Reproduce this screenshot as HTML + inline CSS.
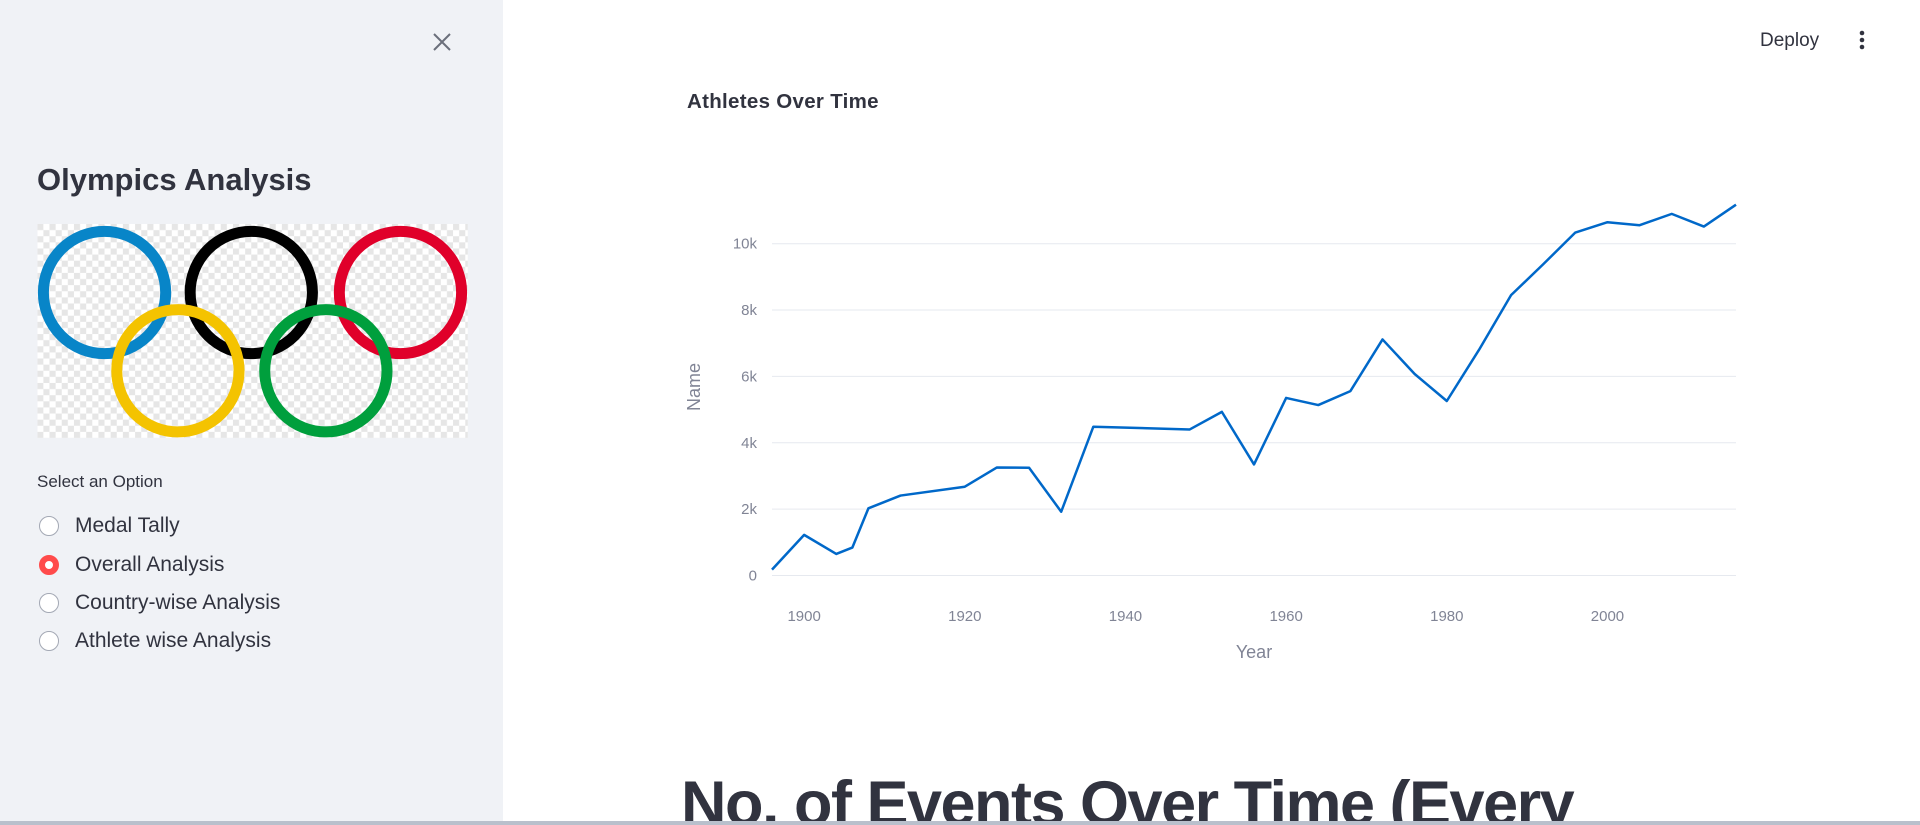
<!DOCTYPE html>
<html style="overflow:hidden;height:825px"><head><meta charset="utf-8"><style>
body{margin:0;width:1920px;height:825px;overflow:hidden;font-family:"Liberation Sans",sans-serif;background:#fff;position:relative}
.sb{position:absolute;left:0;top:0;width:503px;height:825px;background:#f0f2f6}
.abs{position:absolute}
.radio{position:absolute;left:39px;width:20px;height:20px;border-radius:50%;border:1.5px solid #a3a8b4;box-sizing:border-box;background:#fff}
.rl{position:absolute;left:75px;font-size:21px;color:#31333f}
</style></head><body>
<div class="sb">
<div class="abs" style="left:430px;top:30px;width:24px;height:24px">
<svg width="24" height="24"><path d="M4 4L20 20M20 4L4 20" stroke="#6b6f7b" stroke-width="2"/></svg></div>
<div class="abs" style="left:37px;top:162px;font-size:31px;font-weight:bold;color:#31333f">Olympics Analysis</div>
<svg class="abs" style="left:37px;top:224px" width="431" height="214" viewBox="0 0 352 175">
<defs><pattern id="ck" width="10" height="10" patternUnits="userSpaceOnUse"><rect width="10" height="10" fill="#fff"/><rect width="5" height="5" fill="#e6e6e6"/><rect x="5" y="5" width="5" height="5" fill="#e6e6e6"/></pattern></defs>
<rect width="352" height="175" fill="url(#ck)"/>
<g fill="none" stroke-width="9">
<circle cx="55" cy="56" r="50" stroke="#0885c8"/>
<circle cx="175" cy="56" r="50" stroke="#000"/>
<circle cx="297" cy="56" r="50" stroke="#e0002a"/>
<circle cx="115" cy="120" r="50" stroke="#f4c300"/>
<circle cx="236" cy="120" r="50" stroke="#009f3d"/>
</g></svg>
<div class="abs" style="left:37px;top:472px;font-size:17px;color:#31333f">Select an Option</div>
<div class="radio" style="top:516px"></div><div class="rl" style="top:514px">Medal Tally</div>
<div class="radio" style="top:555px;border:6px solid #ff4b4b"></div><div class="rl" style="top:553px">Overall Analysis</div>
<div class="radio" style="top:593px"></div><div class="rl" style="top:591px">Country-wise Analysis</div>
<div class="radio" style="top:631px"></div><div class="rl" style="top:629px">Athlete wise Analysis</div>
</div>
<div class="abs" style="left:1760px;top:30px;font-size:19px;color:#31333f">Deploy</div>
<div class="abs" style="left:1856px;top:30px;width:12px;height:22px">
<svg width="12" height="22"><circle cx="6" cy="3" r="2.3" fill="#31333f"/><circle cx="6" cy="10" r="2.3" fill="#31333f"/><circle cx="6" cy="17" r="2.3" fill="#31333f"/></svg></div>
<div class="abs" style="left:687px;top:90px;font-size:20.5px;font-weight:bold;color:#31333f;letter-spacing:0.3px">Athletes Over Time</div>
<svg class="abs" id="chart" style="left:0;top:0" width="1920" height="825"></svg>
<div class="abs" style="left:503px;top:700px;width:1417px;height:121px;overflow:hidden">
<div class="abs" style="left:178px;top:68px;font-size:63px;font-weight:bold;color:#31333f;letter-spacing:-1.5px;white-space:nowrap">No. of Events Over Time (Every</div>
</div>
<div class="abs" style="left:0;top:821px;width:1920px;height:4px;background:#b9c0cc"></div>
<script>
const years=[1896,1900,1904,1906,1908,1912,1920,1924,1928,1932,1936,1948,1952,1956,1960,1964,1968,1972,1976,1980,1984,1988,1992,1996,2000,2004,2008,2012,2016];
const athletes=[176,1224,650,841,2024,2409,2676,3256,3247,1922,4484,4402,4932,3347,5352,5137,5558,7114,6073,5259,6797,8450,9380,10337,10647,10557,10899,10517,11176];
const yTicks=[0,2000,4000,6000,8000,10000];
const yTickLabels=["0","2k","4k","6k","8k","10k"];
const xTicks=[1900,1920,1940,1960,1980,2000];
const NS="http://www.w3.org/2000/svg";
const svg=document.getElementById('chart');
const L=772,R=1736;
const x=v=>L+(v-1896)/(2016-1896)*(R-L);
const y=v=>575.5-v*(331.8/10000);
function mk(t,a){const e=document.createElementNS(NS,t);for(const k in a)e.setAttribute(k,a[k]);svg.appendChild(e);return e;}
yTicks.forEach((t,i)=>{
 const g=mk('line',{x1:L,x2:R,y1:y(t),y2:y(t),stroke:'#e6e9ef','stroke-width':1});
 
 
 const tx=mk('text',{x:757,y:y(t)+5,'text-anchor':'end','font-size':15,fill:'#808495','font-family':'Liberation Sans, sans-serif'});
 tx.textContent=yTickLabels[i];
 
 
});
xTicks.forEach(t=>{
 const tx=mk('text',{x:x(t),y:621,'text-anchor':'middle','font-size':15,fill:'#808495','font-family':'Liberation Sans, sans-serif'});
 tx.textContent=t;
 
 
});
const xt=mk('text',{x:1254,y:658,'text-anchor':'middle','font-size':18,fill:'#808495','font-family':'Liberation Sans, sans-serif'});
xt.textContent='Year';


const yt=mk('text',{x:0,y:0,'text-anchor':'middle','font-size':18,fill:'#808495','font-family':'Liberation Sans, sans-serif',transform:'translate(700,387) rotate(-90)'});
yt.textContent='Name';


const p=mk('polyline',{points:years.map((yr,i)=>x(yr)+','+y(athletes[i])).join(' '),fill:'none',stroke:'#0068c9','stroke-width':2.5,'stroke-linejoin':'round'});


</script>
</body></html>
